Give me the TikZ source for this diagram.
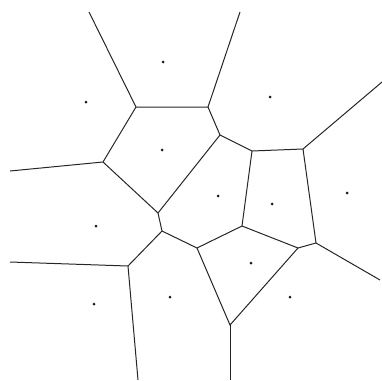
\documentclass[tikz,border=0pt]{standalone}
\usepackage{tikz}
\begin{document}
\begin{tikzpicture}[x=1pt,y=-1pt,
 edge/.style={draw=black!85,line width=1pt},
 site/.style={circle,fill=black!90,inner sep=0pt,minimum size=3pt}]
\useasboundingbox (0,0) rectangle (382,380);
\coordinate (vA) at (136,107); \coordinate (vB) at (103,162);
\coordinate (vC) at (208,107); \coordinate (vD) at (220,135);
\coordinate (vE) at (252,151); \coordinate (vF) at (303,149);
\coordinate (vG) at (128,266); \coordinate (vH) at (162,231);
\coordinate (vI) at (158,213); \coordinate (vJ) at (197,248);
\coordinate (vK) at (242,226); \coordinate (vL) at (298,248);
\coordinate (vM) at (316,243); \coordinate (vN) at (230,325);
\coordinate (tA) at (89,12); \coordinate (tC) at (240,12);
\coordinate (tB) at (10,171); \coordinate (tG) at (10,262);
\coordinate (tF) at (382,82); \coordinate (tM) at (380,280);
\coordinate (bG) at (138,380); \coordinate (bN) at (230,380);
\node[site] (s1) at (163,62) {}; \node[site] (s2) at (86,102) {};
\node[site] (s3) at (270,97) {}; \node[site] (s4) at (162,150) {};
\node[site] (s5) at (218,196) {}; \node[site] (s6) at (272,204) {};
\node[site] (s7) at (347,193) {}; \node[site] (s8) at (96,226) {};
\node[site] (s9) at (251,263) {}; \node[site] (s10) at (94,304) {};
\node[site] (s11) at (170,297) {}; \node[site] (s12) at (290,297) {};
\draw[edge](tA)--(vA)--(vC)--(tC); \draw[edge](tB)--(vB)--(vA);
\draw[edge](vB)--(vI)--(vD)--(vC); \draw[edge](vD)--(vE)--(vF)--(tF);
\draw[edge](vI)--(vH)--(vG)--(tG); \draw[edge](vG)--(bG);
\draw[edge](vH)--(vJ)--(vK)--(vE); \draw[edge](vK)--(vL)--(vM)--(vF);
\draw[edge](vM)--(tM); \draw[edge](vJ)--(vN)--(vL); \draw[edge](vN)--(bN);
\end{tikzpicture}
\end{document}
